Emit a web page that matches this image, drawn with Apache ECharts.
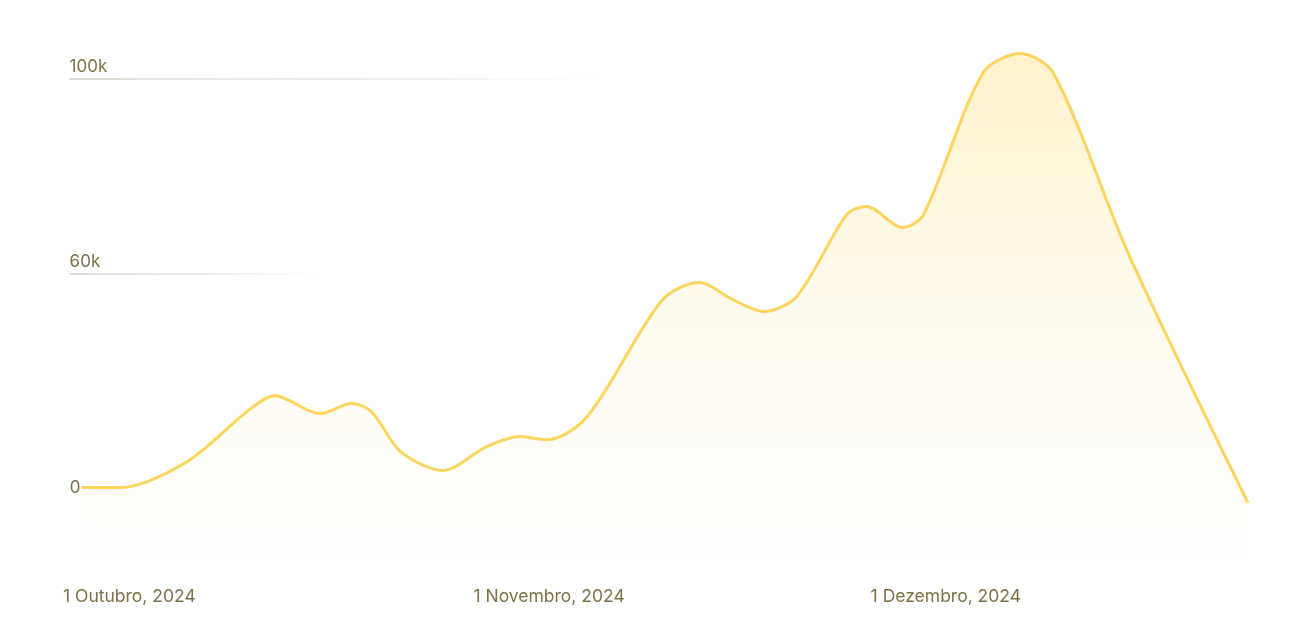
<!DOCTYPE html>
<html>
<head>
<meta charset="utf-8">
<script src="https://cdn.jsdelivr.net/npm/echarts@6/dist/echarts.min.js"></script>
<style>
html,body{margin:0;padding:0;background:#ffffff;}
#chart{width:1289px;height:632px;}
</style>
</head>
<body>
<div id="chart"></div>
<script>
// ---- data (x = day offset from 1 Oct 2024, y = value) ----
const days   = [1.4, 4.3, 9.4, 13.9, 16.0, 19.4, 21.8, 23.3, 25.5, 28.7, 32.0, 34.5, 36.6, 39.6, 45.3, 48.1, 50.6, 52.9, 55.4, 59.2, 60.7, 63.4, 65.0, 69.5, 72.3, 74.8, 80.6, 89.5];
const values = [0, 0, 6400, 18600, 22500, 18100, 20600, 18600, 8800, 4200, 10000, 12500, 11700, 17400, 46000, 50200, 46000, 43100, 46700, 66800, 68800, 63600, 66800, 101500, 106200, 101500, 56300, -3700];
const xTickDays   = [0, 31, 61];
const xTickLabels = ['1 Outubro, 2024', '1 Novembro, 2024', '1 Dezembro, 2024'];
const yTickLabels = ['0', '60k', '100k'];
const yTickValues = [0, 52400, 100000];

// ---- presentation ----
const gridLineSpan = [[1.4, 1.5], [0.5, 19.0], [0.5, 40.0]]; // start/end (days) of each guide line
const textColor = '#7d7246';
const fontFamily = 'Inter, "Noto Sans", sans-serif';

const seriesData = days.map((d, i) => [d, values[i]]);

const markLines = yTickValues.map((v, i) => {
  const isZero = i === 0;
  return [
    {
      coord: [gridLineSpan[i][0], v],
      name: yTickLabels[i],
      lineStyle: isZero ? { color: 'rgba(255,255,255,0)', width: 1 } : {
        width: 1.5,
        type: 'solid',
        color: new echarts.graphic.LinearGradient(0, 0, 1, 0, [
          { offset: 0, color: 'rgba(205,201,190,0.95)' },
          { offset: 0.18, color: 'rgba(210,206,196,0.75)' },
          { offset: 0.7, color: 'rgba(220,217,208,0.45)' },
          { offset: 1, color: 'rgba(230,228,220,0.05)' }
        ])
      },
      label: isZero ? {
        show: true, position: 'start', distance: 1,
        formatter: '{b}', color: textColor, fontSize: 17, fontFamily: fontFamily
      } : {
        show: true, position: 'insideStartTop', distance: [0, 3],
        formatter: '{b}', color: textColor, fontSize: 17, fontFamily: fontFamily
      }
    },
    { coord: [gridLineSpan[i][1], v] }
  ];
});

const chart = echarts.init(document.getElementById('chart'), null, { renderer: 'canvas' });
chart.setOption({
  animation: false,
  backgroundColor: '#ffffff',
  grid: { left: 63, right: 8, top: 38, bottom: 79, containLabel: false },
  xAxis: {
    type: 'value',
    min: 0, max: 92,
    axisLine: { show: false },
    axisTick: { show: false },
    splitLine: { show: false },
    axisLabel: {
      show: true,
      customValues: xTickDays,
      formatter: (v) => { const i = xTickDays.indexOf(v); return i >= 0 ? xTickLabels[i] : ''; },
      align: 'left',
      margin: 35,
      color: textColor,
      fontSize: 17.5,
      fontFamily: fontFamily
    }
  },
  yAxis: {
    type: 'value',
    min: -16000, max: 110000,
    axisLine: { show: false },
    axisTick: { show: false },
    splitLine: { show: false },
    axisLabel: { show: false }
  },
  series: [{
    type: 'line',
    data: seriesData,
    smooth: 0.3,
    symbol: 'none',
    lineStyle: { color: '#fdd45c', width: 3 },
    areaStyle: {
      origin: 'start',
      color: new echarts.graphic.LinearGradient(0, 0, 0, 1, [
        { offset: 0, color: 'rgba(253,214,90,0.45)' },
        { offset: 0.5, color: 'rgba(253,220,120,0.18)' },
        { offset: 1, color: 'rgba(253,225,150,0.02)' }
      ])
    },
    markLine: {
      silent: true,
      symbol: ['none', 'none'],
      animation: false,
      data: markLines
    }
  }]
});
</script>
</body>
</html>
